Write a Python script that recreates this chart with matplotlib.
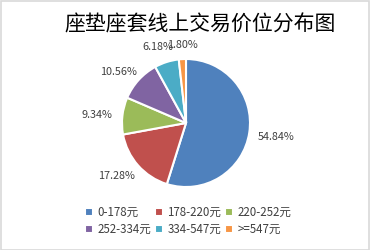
import matplotlib

matplotlib.use("Agg")
import matplotlib.pyplot as plt
import numpy as np
from matplotlib.patches import Rectangle

plt.rcParams["font.family"] = ["Noto Sans CJK SC", "DejaVu Sans"]

# data
title = "座垫座套线上交易价位分布图"
categories = ["0-178元", "178-220元", "220-252元", "252-334元", "334-547元", ">=547元"]
shares = [54.84, 17.28, 9.34, 10.56, 6.18, 1.80]
colors = ["#4F81BD", "#C0504D", "#9BBB59", "#8064A2", "#4BACC6", "#F79646"]

# label centres in pie-radius units (layout only)
label_pos = [(1.41, -0.22), (-1.09, -0.83), (-1.39, 0.13), (-1.06, 0.80), (-0.44, 1.19), (-0.06, 1.22)]

W, H = 370, 250
cx, cy, r = 186, 123, 64

fig = plt.figure(figsize=(W / 100, H / 100), dpi=100)
fig.patches.append(Rectangle((0.5 / W, 0.5 / H), 1 - 1.5 / W, 1 - 1.5 / H, transform=fig.transFigure,
                             fill=False, edgecolor="#D9D9D9", linewidth=1.2))

ax = fig.add_axes([(cx - r) / W, (H - cy - r) / H, 2 * r / W, 2 * r / H])
wedges, _ = ax.pie(shares, colors=colors, startangle=90, counterclock=False,
                   wedgeprops={"edgecolor": "white", "linewidth": 1.5})
ax.set_xlim(-1, 1)
ax.set_ylim(-1, 1)
ax.set_aspect("equal")

for val, (lx, ly) in zip(shares, label_pos):
    ax.text(lx, ly, f"{val:.2f}%", ha="center", va="center", fontsize=7.8, color="#404040")

fig.text(200 / W, 1 - 25 / H, title, ha="center", va="center", fontsize=15, color="#000000")

# legend fills column-first, reorder so it reads row by row
order = [0, 3, 1, 4, 2, 5]
fig.legend([wedges[i] for i in order], [categories[i] for i in order], loc="center",
           bbox_to_anchor=(188 / W, 1 - 221 / H), ncol=3,
           frameon=False, fontsize=8.3, handlelength=0.7, handleheight=0.7, handletextpad=0.4,
           columnspacing=0.3, labelspacing=0.4, labelcolor="#404040")

fig.savefig("out.png", dpi=100)
